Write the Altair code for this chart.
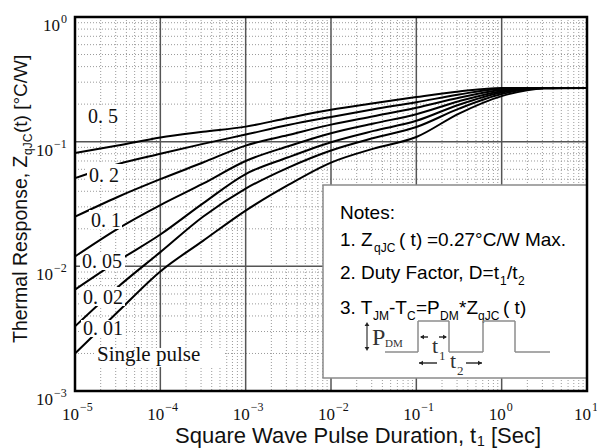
import altair as alt
import pandas as pd

# ---------------- data ----------------
T_SEC = [1e-5, 3.16e-5, 1e-4, 3.16e-4, 1e-3, 3.16e-3, 1e-2, 3.16e-2, 1e-1, 0.316, 1.0, 3.16, 10.0]
Z_D050 = [0.081, 0.093, 0.108, 0.120, 0.132, 0.155, 0.180, 0.203, 0.228, 0.253, 0.270, 0.270, 0.270]
Z_D020 = [0.051, 0.066, 0.080, 0.096, 0.114, 0.136, 0.158, 0.182, 0.207, 0.239, 0.266, 0.270, 0.270]
Z_D010 = [0.025, 0.036, 0.050, 0.068, 0.093, 0.113, 0.137, 0.160, 0.187, 0.225, 0.260, 0.270, 0.270]
Z_D005 = [0.012, 0.020, 0.031, 0.046, 0.070, 0.092, 0.117, 0.140, 0.166, 0.211, 0.254, 0.270, 0.270]
Z_D002 = [0.0065, 0.011, 0.018, 0.032, 0.055, 0.075, 0.099, 0.122, 0.147, 0.198, 0.248, 0.270, 0.270]
Z_D001 = [0.0033, 0.0068, 0.013, 0.025, 0.042, 0.062, 0.085, 0.107, 0.131, 0.184, 0.241, 0.269, 0.270]
Z_SINGLE = [0.0020, 0.0043, 0.0091, 0.016, 0.028, 0.045, 0.068, 0.088, 0.109, 0.168, 0.232, 0.267, 0.270]
CURVES = ["0.5", "0.2", "0.1", "0.05", "0.02", "0.01", "single"]
SERIES = [Z_D050, Z_D020, Z_D010, Z_D005, Z_D002, Z_D001, Z_SINGLE]

X_DECADES = [-5, -4, -3, -2, -1, 0, 1]
Y_DECADES = [-3, -2, -1, 0]
MINOR_MULT = [2, 3, 4, 5, 6, 7, 8, 9]

CURVE_LABELS = ["0. 5", "0. 2", "0. 1", "0. 05", "0. 02", "0. 01", "Single pulse"]

# ---------------- layout ----------------
W, H = 512, 374
SUP = str.maketrans("-0123456789", "\u2212" + "0123456789")

rows = []
for name, zs in zip(CURVES, SERIES):
    for t, z in zip(T_SEC, zs):
        rows.append({"curve": name, "t": t, "z": z})
df = pd.DataFrame(rows)

xs = alt.Scale(type="log", domain=[1e-5, 10], nice=False)
ys = alt.Scale(type="log", domain=[1e-3, 1], nice=False)
ONE = pd.DataFrame({"k": [0]})

minor_x = [m * 10.0 ** e for e in X_DECADES[:-1] for m in MINOR_MULT]
minor_y = [m * 10.0 ** e for e in Y_DECADES[:-1] for m in MINOR_MULT]
major_x = [10.0 ** e for e in X_DECADES]
major_y = [10.0 ** e for e in Y_DECADES]


def txt(x, y, s, size, font="Liberation Sans", align="left", baseline="alphabetic",
        angle=0, color="black"):
    return alt.Chart(ONE).mark_text(text=s, fontSize=size, font=font, align=align,
                                    baseline=baseline, angle=angle, color=color).encode(
        x=alt.value(x), y=alt.value(y))


def seg(x1, y1, x2, y2, color="#8c8c8c", w=1.5):
    return alt.Chart(ONE).mark_rule(color=color, strokeWidth=w).encode(
        x=alt.value(x1), y=alt.value(y1), x2=alt.value(x2), y2=alt.value(y2))


def box(x1, y1, x2, y2, fill="white", stroke=None, sw=0.0, fop=1.0):
    kw = dict(fill=fill, fillOpacity=fop)
    if stroke:
        kw.update(stroke=stroke, strokeWidth=sw)
    return alt.Chart(ONE).mark_rect(**kw).encode(
        x=alt.value(x1), x2=alt.value(x2), y=alt.value(y1), y2=alt.value(y2))


def tri(x, y, shape, size=30, color="#222"):
    return alt.Chart(ONE).mark_point(shape=shape, filled=True, size=size, color=color,
                                     opacity=1).encode(x=alt.value(x), y=alt.value(y))


layers = []
# grid
layers.append(alt.Chart(pd.DataFrame({"v": minor_x})).mark_rule(
    color="#9a9a9a", strokeWidth=1, strokeDash=[1, 2]).encode(
    x=alt.X("v:Q", scale=xs, axis=None), y=alt.value(0), y2=alt.value(H)))
layers.append(alt.Chart(pd.DataFrame({"v": minor_y})).mark_rule(
    color="#9a9a9a", strokeWidth=1, strokeDash=[1, 2]).encode(
    y=alt.Y("v:Q", scale=ys, axis=None), x=alt.value(0), x2=alt.value(W)))
layers.append(alt.Chart(pd.DataFrame({"v": major_x})).mark_rule(
    color="#555", strokeWidth=1.5).encode(
    x=alt.X("v:Q", scale=xs, axis=None), y=alt.value(0), y2=alt.value(H)))
layers.append(alt.Chart(pd.DataFrame({"v": major_y})).mark_rule(
    color="#555", strokeWidth=1.5).encode(
    y=alt.Y("v:Q", scale=ys, axis=None), x=alt.value(0), x2=alt.value(W)))

# curves
layers.append(alt.Chart(df).mark_line(color="black", strokeWidth=2, interpolate="monotone").encode(
    x=alt.X("t:Q", scale=xs, axis=None), y=alt.Y("z:Q", scale=ys, axis=None),
    detail="curve:N"))

# curve labels with white backgrounds
label_pos = [(13, 106), (14, 165), (16, 210), (7, 251), (8, 287), (8, 318), (22, 344)]
label_bg = [(11, 89, 45, 108), (12, 147, 47, 167), (14, 193, 47, 212), (5, 237, 50, 253),
            (6, 270, 50, 289), (6, 303, 50, 320), (20, 331, 150, 350)]
for (x1, y1, x2, y2) in label_bg:
    layers.append(box(x1, y1, x2, y2))
for s, (x, y) in zip(CURVE_LABELS, label_pos):
    layers.append(txt(x, y, s, 21 if s.startswith("S") else 20, font="Liberation Serif",
                      color="#111"))

# notes box
layers.append(box(248, 168, 512, 361, fill="white", stroke="#8a8a8a", sw=1.5))
NF = 19
SF = 12
layers += [
    txt(265, 202, "Notes:", NF),
    txt(265, 229, "1. Z", NF), txt(299, 235, "qJC", SF), txt(324, 229, "( t)", NF),
    txt(352, 229, "=0.27\u00b0C/W Max.", NF),
    txt(265, 262, "2. Duty Factor, D=t", NF), txt(425, 268, "1", SF),
    txt(432, 262, "/t", NF), txt(443, 268, "2", SF),
    txt(265, 297, "3. T", NF), txt(298, 303, "JM", SF), txt(314, 297, "-T", NF),
    txt(332, 303, "C", SF), txt(341, 297, "=P", NF), txt(365, 303, "DM", SF),
    txt(384, 297, "*Z", NF), txt(403, 303, "qJC", SF), txt(428, 297, "( t)", NF),
]
# pulse diagram
wave = [(310, 335), (343, 335), (343, 304), (374, 304), (374, 335), (408, 335),
        (408, 304), (440, 304), (440, 335), (475, 335)]
for (a, b) in zip(wave[:-1], wave[1:]):
    layers.append(seg(a[0], a[1], b[0], b[1]))
layers += [
    seg(292, 309, 292, 330, color="#333", w=1.2), tri(292, 307, "triangle-up", 22),
    tri(292, 332, "triangle-down", 22),
    txt(297, 328, "P", 24, font="Liberation Serif", color="#333"),
    txt(310, 330, "DM", 11, font="Liberation Serif", color="#333"),
    seg(346, 320, 353, 320, color="#333", w=1.5), tri(347, 320, "triangle-left", 22),
    seg(364, 320, 371, 320, color="#333", w=1.5), tri(370, 320, "triangle-right", 22),
    txt(357, 336, "t", 22, font="Liberation Serif", color="#333"),
    txt(364, 343, "1", 13, font="Liberation Serif", color="#333"),
    seg(344, 346, 362, 346, color="#333", w=1.5), tri(346, 346, "triangle-left", 22),
    seg(391, 346, 407, 346, color="#333", w=1.5), tri(405, 346, "triangle-right", 22),
    txt(375, 351, "t", 22, font="Liberation Serif", color="#333"),
    txt(382, 358, "2", 13, font="Liberation Serif", color="#333"),
]

# tick labels
xt = pd.DataFrame({"v": major_x, "e": [str(e).translate(SUP) for e in X_DECADES]})
layers.append(alt.Chart(xt).mark_text(text="10", align="right", dx=4, fontSize=17,
                                      font="Liberation Serif", color="#111").encode(
    x=alt.X("v:Q", scale=xs, axis=None), y=alt.value(H + 24)))
layers.append(alt.Chart(xt).mark_text(align="left", dx=5, fontSize=12,
                                      font="Liberation Serif", color="#111").encode(
    x=alt.X("v:Q", scale=xs, axis=None), y=alt.value(H + 16), text="e:N"))
for e in Y_DECADES:
    d = pd.DataFrame({"v": [10.0 ** e], "e": [str(e).translate(SUP)]})
    xe = -14 if e == 0 else -21
    layers.append(alt.Chart(d).mark_text(text="10", align="right", dy=9, fontSize=17,
                                         font="Liberation Serif", color="#111").encode(
        y=alt.Y("v:Q", scale=ys, axis=None), x=alt.value(xe - 1)))
    layers.append(alt.Chart(d).mark_text(align="left", dy=2, fontSize=12,
                                         font="Liberation Serif", color="#111").encode(
        y=alt.Y("v:Q", scale=ys, axis=None), x=alt.value(xe), text="e:N"))

# axis titles
layers += [
    txt(100, 426, "Square Wave Pulse Duration, t", 22, color="#111"),
    txt(402, 429, "1", 14, color="#111"),
    txt(416, 426, "[Sec]", 22, color="#111"),
    txt(-48, 326, "Thermal Response, Z", 19.5, angle=270, color="#111"),
    txt(-43, 138, "qJC", 12, angle=270, color="#111"),
    txt(-48, 116, "(t) [\u00b0C/W]", 19, angle=270, color="#111"),
]

# plot frame
layers.append(box(0, 0, W, H, fill="white", stroke="black", sw=2.5, fop=0))

chart = alt.layer(*layers).properties(
    width=W, height=H,
    autosize=alt.AutoSizeParams(type="none"),
    padding={"left": 75, "top": 17, "right": 10, "bottom": 57},
).configure_view(stroke=None)

chart.save("out.html", embed_options={"renderer": "svg", "actions": False})
